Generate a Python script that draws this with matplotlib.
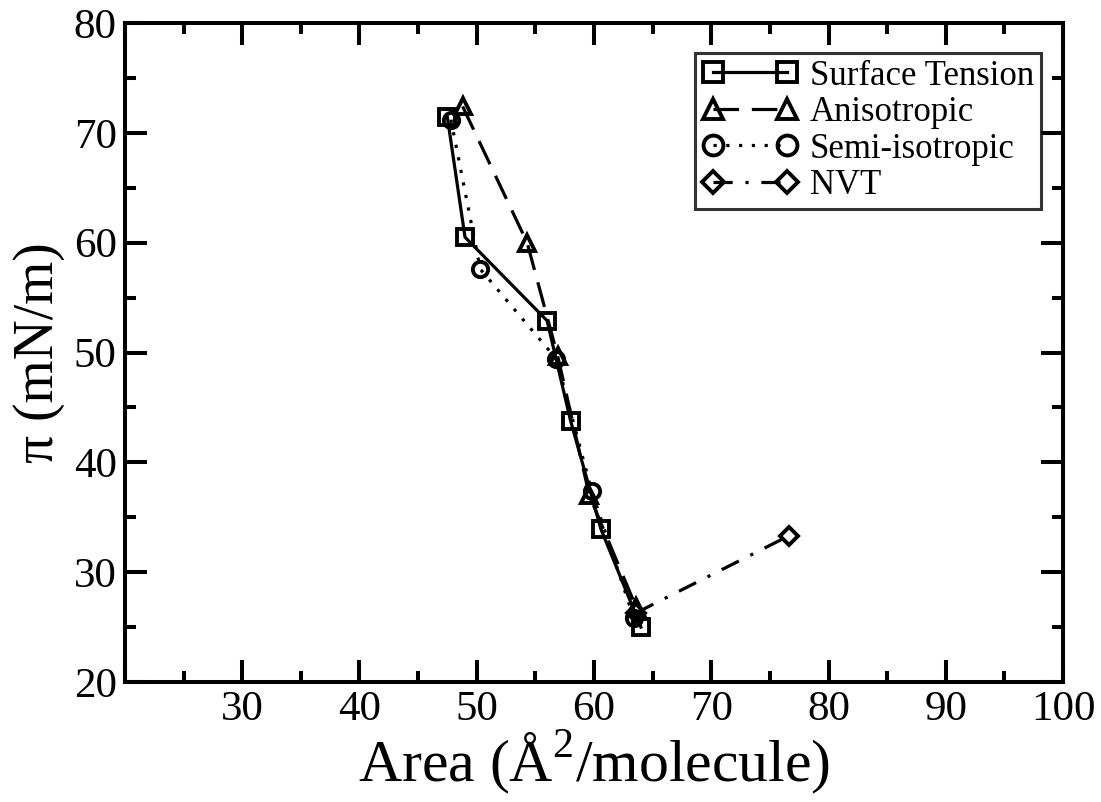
import matplotlib.pyplot as plt
from matplotlib.ticker import MultipleLocator, FixedFormatter, FixedLocator

plt.rcParams['font.family'] = ['Liberation Serif', 'DejaVu Serif']
plt.rcParams['mathtext.fontset'] = 'custom'
plt.rcParams['mathtext.rm'] = 'Liberation Serif'

# surface tension
st_x = [47.5, 49.0, 56.0, 58.0, 60.6, 64.0]
st_y = [71.4, 60.5, 52.9, 43.8, 33.9, 25.0]
# anisotropic
an_x = [48.8, 54.3, 56.9, 59.6, 63.6]
an_y = [72.4, 60.0, 49.7, 37.0, 26.8]
# semi-isotropic
si_x = [47.8, 50.3, 56.8, 59.8, 63.4]
si_y = [71.2, 57.6, 49.4, 37.4, 25.8]
# NVT
nvt_x = [63.6, 76.6]
nvt_y = [26.3, 33.3]

fig = plt.figure(figsize=(11.01, 8.02), dpi=100)
ax = fig.add_axes([0.1135, 0.1496, 0.852, 0.8217])

mk = dict(markersize=11, markerfacecolor='none', markeredgecolor='black',
          markeredgewidth=2.8, color='black', linewidth=2.3)
ax.plot(st_x, st_y, marker='s', linestyle='-', label='Surface Tension', **mk)
ax.plot(an_x, an_y, marker='^', linestyle=(0, (8, 4)), label='Anisotropic', **mk)
ax.plot(si_x, si_y, marker='o', linestyle=(0, (1, 3)), label='Semi-isotropic', **mk)
ax.plot(nvt_x, nvt_y, marker='D', linestyle=(0, (6, 4, 1, 4)), label='NVT',
        **{**mk, 'markersize': 9})

ax.set_xlim(20, 100)
ax.set_ylim(20, 80)
ax.xaxis.set_major_locator(FixedLocator(range(20, 101, 10)))
ax.xaxis.set_major_formatter(FixedFormatter([''] + [str(v) for v in range(30, 101, 10)]))
ax.xaxis.set_minor_locator(MultipleLocator(5))
ax.yaxis.set_major_locator(MultipleLocator(10))
ax.yaxis.set_minor_locator(MultipleLocator(5))
ax.tick_params(which='both', direction='in', top=True, right=True, width=2.9,
               labelsize=31, pad=6)
ax.tick_params(which='major', length=16)
ax.tick_params(which='minor', length=8)
for s in ax.spines.values():
    s.set_linewidth(2.9)

ax.set_xlabel(r'Area (Å$^{\mathregular{2}}$/molecule)', fontsize=43, labelpad=0)
ax.set_ylabel('π (mN/m)', fontsize=40, labelpad=6)

leg = ax.legend(loc='upper right', bbox_to_anchor=(0.9765, 0.955), numpoints=2,
                fontsize=25, frameon=True, fancybox=False, edgecolor='black',
                handlelength=2.75, handletextpad=0.35, labelspacing=0.1,
                borderpad=0.2, borderaxespad=0, markerscale=1.3)
leg.get_frame().set_linewidth(2.2)

fig.savefig('out.png', dpi=100)
